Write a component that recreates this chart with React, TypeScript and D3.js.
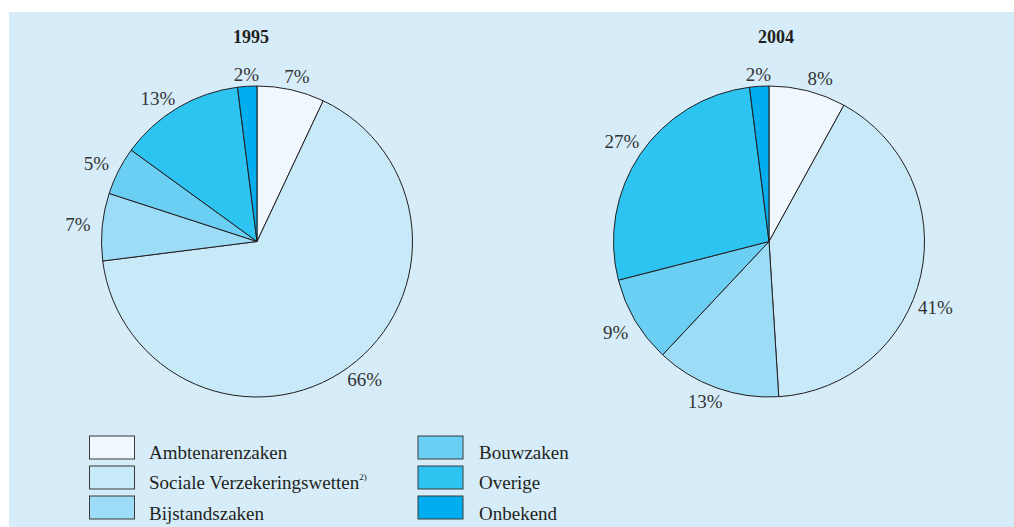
import { useRef, useEffect } from "react";
import * as d3 from "d3";

const FONT = "'Liberation Serif', 'DejaVu Serif', serif";

const W = 1014;
const H = 527;

const categories = [
  "Ambtenarenzaken",
  "Sociale Verzekeringswetten",
  "Bijstandszaken",
  "Bouwzaken",
  "Overige",
  "Onbekend",
];
const colors = ["#f0f8fe", "#c8e9f8", "#9ddcf6", "#6bcff4", "#2dc4f2", "#00aeef"];

const years = ["1995", "2004"];
const values1995 = [7, 66, 7, 5, 13, 2];
const values2004 = [8, 41, 13, 9, 27, 2];
// kleine hoekcorrectie (graden) voor labels die in het origineel verschoven staan
const labelNudge1995 = [1, -2, 0, -1, -4, 0];
const labelNudge2004 = [3, 9, 2, 0, 0, 0];

const legendLeft = categories.slice(0, 3);
const legendRight = categories.slice(3);

export default function App() {
  const ref = useRef<SVGSVGElement>(null);

  useEffect(() => {
    if (!ref.current) return;
    const svg = d3.select(ref.current);
    svg.selectAll("*").remove();

    svg.append("rect")
      .attr("x", 9).attr("y", 12)
      .attr("width", W - 9).attr("height", H - 12)
      .attr("fill", "#d6edf9");

    const R = 155.5;
    const cy = 241.5;
    const centers = [257, 769];
    const titleShift = [-6, 7];
    const sets = [values1995, values2004];
    const nudges = [labelNudge1995, labelNudge2004];

    const pie = d3.pie<number>().sort(null).value((d) => d);
    const arc = d3.arc<d3.PieArcDatum<number>>().innerRadius(0).outerRadius(R);

    sets.forEach((vals, i) => {
      const cx = centers[i];
      const g = svg.append("g").attr("transform", `translate(${cx},${cy})`);

      svg.append("text")
        .attr("x", cx + titleShift[i]).attr("y", 43)
        .attr("text-anchor", "middle")
        .attr("font-family", FONT).attr("font-size", "18px").attr("font-weight", "bold")
        .attr("fill", "#231f20")
        .text(years[i]);

      const arcs = pie(vals);
      g.selectAll("path").data(arcs).join("path")
        .attr("d", arc)
        .attr("fill", (_d, j) => colors[j])
        .attr("stroke", "#231f20").attr("stroke-width", 1)
        .attr("stroke-linejoin", "round");

      g.selectAll("text.lbl").data(arcs).join("text")
        .attr("class", "lbl")
        .each(function (d, j) {
          const a = (d.startAngle + d.endAngle) / 2 + (nudges[i][j] * Math.PI) / 180;
          const rl = 167 + 13 * Math.abs(Math.sin(a));
          d3.select(this)
            .attr("x", rl * Math.sin(a))
            .attr("y", -rl * Math.cos(a))
            .attr("dy", "0.35em");
        })
        .attr("text-anchor", "middle")
        .attr("font-family", FONT).attr("font-size", "19px")
        .attr("fill", "#333")
        .text((d) => `${d.data}%`);
    });

    // Legenda
    const drawLegend = (items: string[], offset: number, bx: number, tx: number) => {
      items.forEach((name, k) => {
        const y = 436 + k * 30;
        svg.append("rect")
          .attr("x", bx).attr("y", y)
          .attr("width", 45).attr("height", 23)
          .attr("fill", colors[offset + k])
          .attr("stroke", "#3a3a3a").attr("stroke-width", 1);
        const t = svg.append("text")
          .attr("x", tx).attr("y", y + 23 - (k === 2 ? -0.5 : 0))
          .attr("font-family", FONT).attr("font-size", "19px")
          .attr("fill", "#231f20")
          .text(name);
        if (offset + k === 1) {
          t.append("tspan")
            .attr("font-size", "9px").attr("dy", "-9")
            .text("2)");
        }
      });
    };
    drawLegend(legendLeft, 0, 89.5, 149);
    drawLegend(legendRight, 3, 418, 479);
  }, []);

  return (
    <div style={{ position: "fixed", left: 0, top: 0, width: W, height: H }}>
      <svg ref={ref} width={W} height={H} style={{ display: "block" }} />
    </div>
  );
}
